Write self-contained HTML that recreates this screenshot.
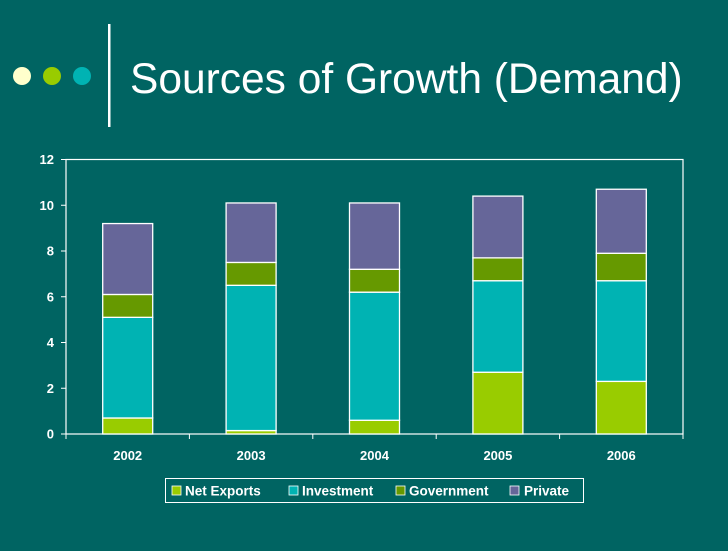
<!DOCTYPE html>
<html><head><meta charset="utf-8"><style>
body{margin:0;width:728px;height:546px;background:#006462;overflow:hidden;font-family:"Liberation Sans",sans-serif}
</style></head><body>
<svg width="728" height="546" xmlns="http://www.w3.org/2000/svg">
<circle cx="22" cy="76" r="9" fill="#ffffcc"/>
<circle cx="52" cy="76" r="9" fill="#99cc00"/>
<circle cx="82" cy="76" r="9" fill="#00b3b3"/>
<rect x="108" y="24" width="2.5" height="103" fill="#fff"/>
<text x="130" y="93" font-size="42.5" fill="#fff">Sources of Growth (Demand)</text>
<g id="chart"></g>
<g>
<rect x="165.5" y="478.5" width="418" height="24" fill="none" stroke="#fff"/>
<rect x="172" y="486" width="9" height="9" fill="#99cc00" stroke="#fff" stroke-width="0.8"/>
<text x="185" y="495.5" font-size="13.5" font-weight="bold" fill="#fff">Net Exports</text>
<rect x="289" y="486" width="9" height="9" fill="#00b3b3" stroke="#fff" stroke-width="0.8"/>
<text x="302" y="495.5" font-size="13.5" font-weight="bold" fill="#fff">Investment</text>
<rect x="396" y="486" width="9" height="9" fill="#669900" stroke="#fff" stroke-width="0.8"/>
<text x="409" y="495.5" font-size="13.5" font-weight="bold" fill="#fff">Government</text>
<rect x="510" y="486" width="9" height="9" fill="#666699" stroke="#fff" stroke-width="0.8"/>
<text x="524" y="495.5" font-size="13.5" font-weight="bold" fill="#fff">Private</text>
</g>
</svg>
<script>
const categories = ["2002","2003","2004","2005","2006"];
const netExports = [0.7, 0.15, 0.6, 2.7, 2.3];
const investment = [4.4, 6.35, 5.6, 4.0, 4.4];
const government = [1.0, 1.0, 1.0, 1.0, 1.2];
const privateC = [3.1, 2.6, 2.9, 2.7, 2.8];
const yTicks = [0, 2, 4, 6, 8, 10, 12];
const seriesNames = ["net-exports","investment","government","private"];
const seriesColors = ["#99cc00","#00b3b3","#669900","#666699"];

const NS = "http://www.w3.org/2000/svg";
const g = document.getElementById("chart");
const L = 66, R = 683, T = 159.5, B = 434, yMax = 12;
const y = v => B - (v / yMax) * (B - T);
const band = (R - L) / categories.length;
const x = i => L + band * i + band / 2;
const barW = 50;
function mk(tag, attrs) { const e = document.createElementNS(NS, tag); for (const k in attrs) e.setAttribute(k, attrs[k]); g.appendChild(e); return e; }

const frame = mk("rect", {x: L, y: T, width: R - L, height: B - T, fill: "none", stroke: "#fff", "stroke-width": 1.2});


yTicks.forEach(t => {
  const tk = mk("line", {x1: L - 5, x2: L, y1: y(t), y2: y(t), stroke: "#fff"});
  
  
  const lb = mk("text", {x: L - 12, y: y(t) + 4.5, "text-anchor": "end", "font-size": 13, "font-weight": "bold", fill: "#fff"});
  lb.textContent = t;
  
  
});
for (let i = 0; i <= categories.length; i++) {
  const tx = L + band * i;
  const tk = mk("line", {x1: tx, x2: tx, y1: B, y2: B + 5, stroke: "#fff"});
  
  
}
const series = [netExports, investment, government, privateC];
categories.forEach((c, i) => {
  let base = 0;
  series.forEach((s, k) => {
    const top = base + s[i];
    const r = mk("rect", {x: x(i) - barW / 2, y: y(top), width: barW, height: y(base) - y(top), fill: seriesColors[k], stroke: "#fff", "stroke-width": 1.3});
    
    
    base = top;
  });
  const lb = mk("text", {x: x(i), y: B + 26, "text-anchor": "middle", "font-size": 13, "font-weight": "bold", fill: "#fff"});
  lb.textContent = c;
  
  
});
</script>
</body></html>
